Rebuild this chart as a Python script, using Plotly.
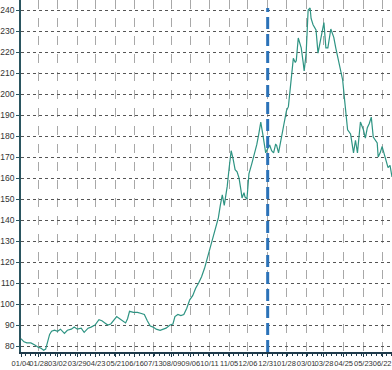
import plotly.graph_objects as go

# trading-day index (from first trading day 01/04) and price values
day_index = [0, 3, 6, 10, 14, 17, 20, 23, 25, 27, 29, 31, 34, 37, 40, 44, 47, 51, 54, 57,
             61, 64, 68, 71, 75, 79, 82, 85, 88, 91, 94, 97, 100, 103, 106, 108, 110, 114, 118, 122,
             125, 128, 131, 134, 137, 141, 144, 147, 151, 154, 156, 159, 162, 165, 168, 171, 174, 177, 180, 183,
             186, 189, 191, 194, 197, 200, 202, 204, 206, 209, 211, 213, 215, 217, 219, 221, 223, 224, 226, 227,
             229, 231, 234, 237, 239, 241, 243, 245, 246, 248, 250, 252, 254, 256, 258, 259, 261, 264, 267, 269,
             271, 273, 274, 276, 278, 279, 281, 283, 284, 286, 287, 289, 291, 293, 294, 296, 299, 301, 304, 307,
             309, 311, 314, 317, 319, 321, 324, 326, 328, 329, 331, 334, 336, 337, 339, 341, 344, 347, 349, 351,
             353, 355, 357, 359, 361, 362, 364, 366, 369, 372, 374, 376]
price = [83.5, 82, 81.5, 81.5, 80.5, 79.5, 79, 78, 78.5, 82, 85.5, 87, 87.5, 87, 88, 86, 87.5, 88, 89, 88,
         88.5, 86.5, 88.5, 89, 90, 92.5, 92, 91, 90, 90.5, 92.5, 94, 93, 92, 91, 93, 96.5, 96, 96, 95.5,
         95, 92, 89.5, 89, 88, 87.5, 88, 88.5, 90, 90.5, 94, 95, 94.5, 95, 98, 102, 104, 107.5, 110, 113,
         117, 122, 125.7, 130, 135, 141, 147, 152, 147, 156, 165, 173, 169, 164, 163, 160, 154, 150.5, 153, 151,
         150, 162, 167, 172, 176, 181, 186.6, 181, 178, 172, 174, 175.7, 173, 172, 176, 175.7, 172, 180, 187.6, 192,
         194, 202, 208, 217, 215, 216, 226.7, 224, 222, 215, 211, 219.5, 240, 241, 236, 233, 230.5, 219.5, 227, 234,
         222, 222, 231, 227, 222, 217.6, 210.5, 206.7, 197, 191, 183, 181, 173, 172, 178, 172, 186.7, 183, 179, 184,
         186, 189, 179.5, 178, 176.7, 170, 172, 175, 170, 165, 166, 160.5]

tick_pos = [0, 18, 37, 57, 76, 96, 115, 134, 153, 172, 191, 211, 230, 250, 269, 289, 307, 327, 347, 366]
tick_text = ["01/04", "01/28", "03/02", "03/29", "04/23", "05/21", "06/16", "07/13", "08/09", "09/06",
             "10/11", "11/05", "12/06", "12/31", "01/28", "03/01", "03/28", "04/25", "05/23", "06/22"]
y_ticks = list(range(80, 250, 10))
year_break = 250

fig = go.Figure()
fig.add_trace(go.Scatter(x=day_index, y=price, mode="lines",
                         line=dict(color="#2e9483", width=1.2), hoverinfo="skip"))

fig.add_shape(type="line", x0=year_break, x1=year_break, y0=77.14, y1=241,
              xref="x", yref="y", line=dict(color="#2b72b8", width=3, dash="12px,5px"))

xfont = dict(family="Liberation Sans Narrow, Arial Narrow, sans-serif", size=7.5, color="#333333")
yfont = dict(family="Liberation Sans Narrow, Arial Narrow, sans-serif", size=8.5, color="#333333")

fig.update_layout(
    width=392, height=370,
    margin=dict(l=16, r=0, t=0, b=18),
    paper_bgcolor="white", plot_bgcolor="white",
    showlegend=False,
    xaxis=dict(range=[0, 376], tickmode="array", tickvals=tick_pos, ticktext=tick_text,
               tickangle=0, tickfont=xfont, ticks="outside", ticklen=3, tickcolor="#1f3a4a",
               ticklabeloverflow="allow",
               showline=True, linecolor="#1f3a4a", linewidth=1.5,
               showgrid=True, gridcolor="#a8a8a8", griddash="dash", gridwidth=1,
               zeroline=False,
               minor=dict(ticks="outside", ticklen=2, tickcolor="#1f3a4a", tick0=0, dtick=5,
                          showgrid=False)),
    yaxis=dict(range=[77.14, 244.8], tickmode="array", tickvals=y_ticks,
               ticktext=[str(v) for v in y_ticks], tickfont=yfont,
               ticks="outside", ticklen=3, tickcolor="#2a5560",
               showline=True, linecolor="#2a5560", linewidth=1.5,
               showgrid=True, gridcolor="#555555", griddash="dot", gridwidth=1,
               zeroline=False),
)

fig.write_html("out.html")
